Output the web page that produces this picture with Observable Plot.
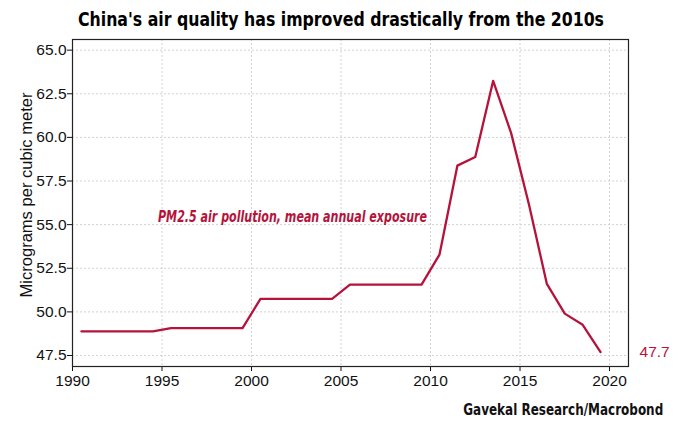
<!DOCTYPE html>
<html>
<head>
<meta charset="utf-8">
<script src="https://cdn.jsdelivr.net/npm/d3@7"></script>
<script src="https://cdn.jsdelivr.net/npm/@observablehq/plot@0.6"></script>
<style>
  html, body { margin: 0; padding: 0; background: #fff; }
  #wrap { width: 680px; height: 427px; position: relative; font-family: "Liberation Sans", sans-serif; }
  #titlebox { height: 32px; position: relative; }
  #title { position: absolute; left: 78px; top: 7px; white-space: nowrap; transform-origin: 0 0; font-family: "DejaVu Sans Condensed", sans-serif; font-weight: bold; font-size: 20px; line-height: 24px; color: #000; }
  #caption { position: absolute; right: 17px; top: 401px; white-space: nowrap; transform-origin: 100% 0; font-family: "DejaVu Sans Condensed", sans-serif; font-weight: bold; font-size: 15px; line-height: 18px; color: #111; }
  svg { display: block; }
</style>
</head>
<body>
<div id="wrap">
  <div id="titlebox"><div id="title">China's air quality has improved drastically from the 2010s</div></div>
  <div id="chart"></div>
  <div id="caption">Gavekal Research/Macrobond</div>
</div>
<script>
const years = [1990,1991,1992,1993,1994,1995,1996,1997,1998,1999,2000,2001,2002,2003,2004,2005,2006,2007,2008,2009,2010,2011,2012,2013,2014,2015,2016,2017,2018,2019];
const pm25 = [48.88,48.88,48.88,48.88,48.88,49.07,49.07,49.07,49.07,49.07,50.75,50.75,50.75,50.75,50.75,51.56,51.56,51.56,51.56,51.56,53.28,58.38,58.88,63.24,60.26,56.15,51.6,49.9,49.26,47.7];
const xTicks = [1990,1995,2000,2005,2010,2015,2020];
const yTicks = [47.5,50.0,52.5,55.0,57.5,60.0,62.5,65.0];
const seriesLabel = "PM2.5 air pollution, mean annual exposure";
const yLabel = "Micrograms per cubic meter";

const red = "#b5133c";
const data = years.map((y, i) => ({t: y + 0.5, v: pm25[i]}));
const last = data[data.length - 1];

const chart = Plot.plot({
  width: 680,
  height: 368,
  marginTop: 7,
  marginBottom: 34,
  marginLeft: 72,
  marginRight: 52,
  style: {fontFamily: "Liberation Sans, sans-serif", fontSize: "15px", color: "#111"},
  x: {domain: [1990, 2021.06], ticks: xTicks},
  y: {domain: [46.87, 65.61], ticks: yTicks},
  marks: [
    Plot.gridX(xTicks, {stroke: "#d2d2d2", strokeOpacity: 1, strokeDasharray: "2,2"}),
    Plot.gridY(yTicks, {stroke: "#d2d2d2", strokeOpacity: 1, strokeDasharray: "2,2"}),
    Plot.axisX(xTicks, {tickSize: 5, tickPadding: 3, label: null, fontSize: 15.5, tickFormat: d => String(d)}),
    Plot.axisY(yTicks, {tickSize: 5, tickPadding: 1, label: null, fontSize: 15.5, tickFormat: d3.format(".1f")}),
    Plot.frame({stroke: "#222", strokeWidth: 1.2}),
    Plot.line(data, {x: "t", y: "v", stroke: red, strokeWidth: 2.3}),
    Plot.text([last], {x: "t", y: "v", text: d => d3.format(".1f")(d.v), dx: 39, textAnchor: "start", fill: red, fontSize: 15.5}),
    Plot.text([seriesLabel], {frameAnchor: "top-left", text: d => d, dx: 220, dy: 172, textAnchor: "middle", fill: red, fontSize: 15, fontStyle: "italic", fontWeight: "bold", fontFamily: "DejaVu Sans Condensed, sans-serif"}),
    Plot.text([yLabel], {frameAnchor: "left", text: d => d, rotate: -90, dx: -46, dy: -8, textAnchor: "middle", fill: "#111", fontSize: 16})
  ]
});
document.getElementById("chart").appendChild(chart);

// condense long labels to the reference widths
const fit = {[seriesLabel]: 269, [yLabel]: 205};
d3.select(chart).selectAll("text").each(function () {
  const w = fit[this.textContent];
  if (w) { this.setAttribute("textLength", w); this.setAttribute("lengthAdjust", "spacingAndGlyphs"); }
});
function scaleTo(el, w) {
  const cur = el.getBoundingClientRect().width;
  el.style.transform = `scaleX(${w / cur})`;
}
scaleTo(document.getElementById("title"), 526);
scaleTo(document.getElementById("caption"), 200);
</script>
</body>
</html>
